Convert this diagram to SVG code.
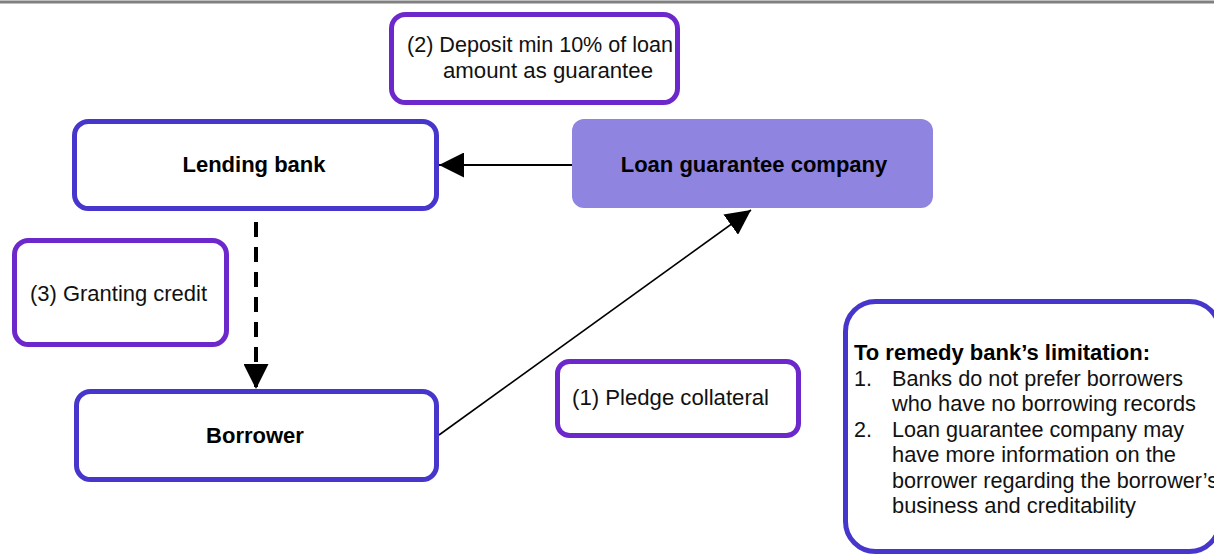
<svg xmlns="http://www.w3.org/2000/svg" width="1214" height="554" viewBox="0 0 1214 554">
  <style>
    .node { fill: #ffffff; stroke: #4636CC; stroke-width: 5; }
    .label { fill: #ffffff; stroke: #6D28CC; stroke-width: 5; }
    .filled { fill: #8F84E0; stroke: none; }
    .t { font-family: "Liberation Sans", Arial, sans-serif; font-size: 21.5px; fill: #111111; }
    .b { font-family: "Liberation Sans", Arial, sans-serif; font-size: 22px; font-weight: bold; fill: #000000; }
    .mid { text-anchor: middle; }
    .conn { stroke: #000000; fill: none; }
  </style>
  <defs>
    <marker id="head" viewBox="0 0 10 10" refX="10" refY="5" markerWidth="25" markerHeight="25" markerUnits="userSpaceOnUse" orient="auto">
      <path d="M0,0 L10,5 L0,10 Z" fill="#000000"/>
    </marker>
  </defs>

  <rect width="1214" height="554" fill="#ffffff"/>
  <line x1="0" y1="2" x2="1214" y2="2" stroke="#808080" stroke-width="3"/>

  <g id="connectors">
    <line class="conn" x1="572" y1="165" x2="439" y2="165" stroke-width="2" marker-end="url(#head)"/>
    <line class="conn" x1="256" y1="222" x2="256" y2="389" stroke-width="4" stroke-dasharray="15,10" marker-end="url(#head)"/>
    <line class="conn" x1="439" y1="435" x2="751" y2="210" stroke-width="1.6" marker-end="url(#head)"/>
  </g>

  <g id="deposit-label">
    <rect class="label" x="391.5" y="14.5" width="286" height="88" rx="14"/>
    <text class="t" x="407" y="52" textLength="266" lengthAdjust="spacingAndGlyphs">(2) Deposit min 10% of loan</text>
    <text class="t" x="443" y="78" textLength="210" lengthAdjust="spacingAndGlyphs">amount as guarantee</text>
  </g>

  <g id="lending-bank">
    <rect class="node" x="74.5" y="121.5" width="362" height="87" rx="14"/>
    <text class="b mid" x="254" y="172">Lending bank</text>
  </g>

  <g id="loan-guarantee-company">
    <rect class="filled" x="572" y="119" width="361" height="89" rx="12"/>
    <text class="b mid" x="754" y="172">Loan guarantee company</text>
  </g>

  <g id="granting-label">
    <rect class="label" x="14.5" y="240.5" width="212" height="104" rx="14"/>
    <text class="t" x="30" y="301" textLength="177" lengthAdjust="spacingAndGlyphs">(3) Granting credit</text>
  </g>

  <g id="borrower">
    <rect class="node" x="76.5" y="391.5" width="360" height="88" rx="14"/>
    <text class="b mid" x="255" y="443">Borrower</text>
  </g>

  <g id="pledge-label">
    <rect class="label" x="557.5" y="361.5" width="241" height="74" rx="12"/>
    <text class="t" x="572" y="405" textLength="197" lengthAdjust="spacingAndGlyphs">(1) Pledge collateral</text>
  </g>

  <g id="remedy-note">
    <rect class="node" x="845.5" y="301.5" width="374" height="250" rx="30"/>
    <text class="b" x="854" y="360" textLength="296" lengthAdjust="spacingAndGlyphs">To remedy bank’s limitation:</text>
    <text class="t" x="854" y="386">1.</text>
    <text class="t" x="892" y="386" textLength="291" lengthAdjust="spacingAndGlyphs">Banks do not prefer borrowers</text>
    <text class="t" x="892" y="411" textLength="304" lengthAdjust="spacingAndGlyphs">who have no borrowing records</text>
    <text class="t" x="854" y="437">2.</text>
    <text class="t" x="892" y="437" textLength="292" lengthAdjust="spacingAndGlyphs">Loan guarantee company may</text>
    <text class="t" x="892" y="462" textLength="284" lengthAdjust="spacingAndGlyphs">have more information on the</text>
    <text class="t" x="892" y="488" textLength="326" lengthAdjust="spacingAndGlyphs">borrower regarding the borrower’s</text>
    <text class="t" x="892" y="513" textLength="244" lengthAdjust="spacingAndGlyphs">business and creditability</text>
  </g>
</svg>
